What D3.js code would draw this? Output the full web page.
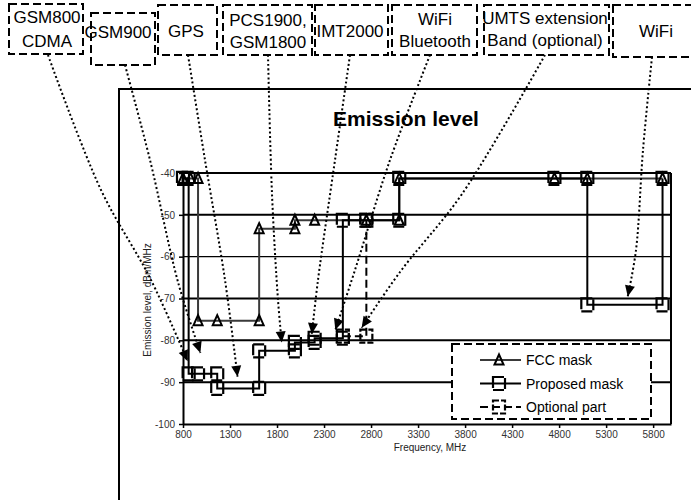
<!DOCTYPE html>
<html>
<head>
<meta charset="utf-8">
<script src="https://cdn.jsdelivr.net/npm/d3@7"></script>
<style>
  body { margin: 0; background: #fff; }
  svg  { display: block; font-family: "Liberation Sans", Arial, sans-serif; }
</style>
</head>
<body>
<svg id="chart" width="691" height="500"></svg>
<script>
// ── Data ─────────────────────────────────────────────────────────────────────
const xTicks = [800, 1300, 1800, 2300, 2800, 3300, 3800, 4300, 4800, 5300, 5800];
const yTicks = [-100, -90, -80, -70, -60, -50, -40];

// [frequency MHz, level dBm/MHz]
const fccMask = [
  [800, -41.3], [880, -41.3], [960, -41.3], [960, -75.3], [1164, -75.3], [1610, -75.3],
  [1610, -53.3], [1990, -53.3], [1990, -51.3], [2200, -51.3], [2750, -51.3], [3100, -51.3],
  [3100, -41.3], [4750, -41.3], [5100, -41.3], [5900, -41.3]
];
const proposedMask = [
  [800, -41.3], [860, -41.3], [860, -88], [960, -88], [1164, -88], [1164, -91.5],
  [1610, -91.5], [1610, -82.5], [1990, -82.5], [1990, -80.5], [2200, -80.5], [2200, -79.5],
  [2500, -79.5], [2500, -51.3], [2750, -51.3], [3100, -51.3], [3100, -41.3], [4750, -41.3],
  [5100, -41.3], [5100, -71.5], [5900, -71.5], [5900, -41.3]
];
const optionalPart = [[2500, -79], [2750, -79], [2750, -51.3]];

const seriesNames = ['FCC mask', 'Proposed mask', 'Optional part'];

const bandLabels = [
  ['GSM800', 'CDMA'], ['GSM900'], ['GPS'], ['PCS1900,', 'GSM1800'],
  ['IMT2000'], ['WiFi', 'Bluetooth'], ['UMTS extension', 'Band (optional)'], ['WiFi']
];
// where each band's arrow points, [MHz, dBm/MHz]
const bandTargets = [
  [850, -85], [985, -83], [1380, -88.7], [1850, -80.5],
  [2170, -78.5], [2420, -77.5], [2700, -77], [5530, -69.5]
];

// ── Layout ───────────────────────────────────────────────────────────────────
const plot = { left: 183, right: 671, top: 173, bottom: 424 };

// label boxes (px) and the bend points of their leader lines
const boxes = [
  { x: 9,   y: 4,  w: 74,  h: 50, tx: 47,  base: [23, 47], via: [[48, 55], [101, 190], [150, 278]] },
  { x: 91,  y: 13, w: 64,  h: 52, tx: 118, base: [38],     via: [[125, 65], [150, 160], [178, 282]] },
  { x: 158, y: 5,  w: 59,  h: 50, tx: 186, base: [37],     via: [[188, 55], [205, 160], [225, 280]] },
  { x: 223, y: 5,  w: 89,  h: 50, tx: 268, base: [26, 48], via: [[268, 55], [272, 194], [278, 300]] },
  { x: 315, y: 5,  w: 73,  h: 50, tx: 350, base: [37],     via: [[350, 55], [335, 160], [318, 280]] },
  { x: 392, y: 5,  w: 85,  h: 50, tx: 435, base: [25, 47], via: [[430, 55], [390, 160], [355, 270]] },
  { x: 484, y: 5,  w: 125, h: 50, tx: 545, base: [24, 46], via: [[545, 55], [462, 194], [400, 272]] },
  { x: 613, y: 5,  w: 90,  h: 52, tx: 656, base: [37],     via: [[652, 57], [643, 150], [636, 250]] }
];

const svg = d3.select('#chart');

const x = d3.scaleLinear().domain([800, 5990]).range([plot.left, plot.right]);
const y = d3.scaleLinear().domain([-100, -40]).range([plot.bottom, plot.top]);

// ── Outer chart frame ────────────────────────────────────────────────────────
svg.append('rect')
  .attr('x', 119).attr('y', 89).attr('width', 700).attr('height', 500)
  .attr('fill', 'none').attr('stroke', '#000').attr('stroke-width', 2);

// ── Title ────────────────────────────────────────────────────────────────────
svg.append('text')
  .attr('x', 406).attr('y', 126)
  .attr('text-anchor', 'middle')
  .attr('font-size', 21).attr('font-weight', 'bold')
  .text('Emission level');

// ── Gridlines + plot border ──────────────────────────────────────────────────
svg.append('g')
  .selectAll('line')
  .data(yTicks.filter(v => v > -100))
  .join('line')
    .attr('x1', plot.left).attr('x2', plot.right)
    .attr('y1', d => y(d)).attr('y2', d => y(d))
    .attr('stroke', '#000')
    .attr('stroke-width', d => d === -60 ? 1.3 : 2);

svg.append('line')
  .attr('x1', plot.right).attr('x2', plot.right)
  .attr('y1', plot.top).attr('y2', plot.bottom)
  .attr('stroke', '#000').attr('stroke-width', 2);

// ── Axes ─────────────────────────────────────────────────────────────────────
const plain = d => String(d);   // no thousands separator, ASCII minus

const xAxis = svg.append('g')
  .attr('transform', `translate(0,${plot.bottom})`)
  .call(d3.axisBottom(x).tickValues(xTicks).tickFormat(plain)
    .tickSize(4).tickPadding(3).tickSizeOuter(0));

const yAxis = svg.append('g')
  .attr('transform', `translate(${plot.left},0)`)
  .call(d3.axisLeft(y).tickValues(yTicks).tickFormat(plain)
    .tickSize(4).tickPadding(4).tickSizeOuter(0));

[xAxis, yAxis].forEach(g => {
  g.select('.domain').attr('stroke', '#000').attr('stroke-width', 2);
  g.selectAll('.tick line').attr('stroke', '#000').attr('stroke-width', 1.5);
  g.selectAll('.tick text')
    .attr('font-family', '"Liberation Sans", Arial, sans-serif')
    .attr('font-size', 10).attr('fill', '#333');
});

svg.append('text')
  .attr('x', 430).attr('y', 451)
  .attr('text-anchor', 'middle').attr('font-size', 10).attr('fill', '#222')
  .text('Frequency, MHz');

svg.append('text')
  .attr('transform', 'translate(151,300) rotate(-90)')
  .attr('text-anchor', 'middle').attr('font-size', 10).attr('fill', '#222')
  .text('Emission level, dBm/MHz');

// ── Series ───────────────────────────────────────────────────────────────────
const line = d3.line().x(d => x(d[0])).y(d => y(d[1]));

const triPath = 'M0,-5.5L4.5,4.5L-4.5,4.5Z';

function drawSeries(data, opts) {
  svg.append('path')
    .datum(data)
    .attr('d', line)
    .attr('fill', 'none')
    .attr('stroke', opts.color)
    .attr('stroke-width', 2)
    .attr('stroke-dasharray', opts.dash || null);
}

function drawMarkers(data, kind, dash) {
  const g = svg.append('g');
  if (kind === 'tri') {
    g.selectAll('path').data(data).join('path')
      .attr('transform', d => `translate(${x(d[0])},${y(d[1])})`)
      .attr('d', triPath)
      .attr('fill', 'none').attr('stroke', '#000').attr('stroke-width', 2);
  } else {
    g.selectAll('rect').data(data).join('rect')
      .attr('x', d => x(d[0]) - 6).attr('y', d => y(d[1]) - 6.5)
      .attr('width', 12).attr('height', 13)
      .attr('fill', 'none').attr('stroke', '#000').attr('stroke-width', 2.2)
      .attr('stroke-dasharray', dash || null);
  }
}

drawSeries(fccMask,      { color: '#3a3a3a' });
drawSeries(proposedMask, { color: '#000' });
drawSeries(optionalPart, { color: '#000', dash: '8,4' });

drawMarkers(fccMask, 'tri');
drawMarkers(proposedMask, 'sq', '11,2');
drawMarkers(optionalPart, 'sq', '6,2');

// ── Band labels with dotted leaders ──────────────────────────────────────────
const leader = d3.line().curve(d3.curveCatmullRom.alpha(0.5));

boxes.forEach((b, i) => {
  const tip = [x(bandTargets[i][0]), y(bandTargets[i][1])];
  const pts = b.via.concat([tip]);

  const p = svg.append('path')
    .attr('d', leader(pts))
    .attr('fill', 'none')
    .attr('stroke', '#000')
    .attr('stroke-width', 2)
    .attr('stroke-dasharray', '2,2.5');

  // arrowhead aligned with the end of the curve
  const node = p.node();
  const len  = node.getTotalLength();
  const back = node.getPointAtLength(Math.max(0, len - 8));
  const ang  = Math.atan2(tip[1] - back.y, tip[0] - back.x) * 180 / Math.PI;
  svg.append('path')
    .attr('transform', `translate(${tip[0]},${tip[1]}) rotate(${ang})`)
    .attr('d', 'M0,0L-11,-5L-11,5Z')
    .attr('fill', '#000');

  svg.append('rect')
    .attr('x', b.x).attr('y', b.y).attr('width', b.w).attr('height', b.h)
    .attr('fill', 'none').attr('stroke', '#000').attr('stroke-width', 2)
    .attr('stroke-dasharray', '8,4');

  bandLabels[i].forEach((t, j) => {
    svg.append('text')
      .attr('x', b.tx).attr('y', b.base[j])
      .attr('text-anchor', 'middle').attr('font-size', 17)
      .text(t);
  });
});

// ── Legend ───────────────────────────────────────────────────────────────────
const legend = svg.append('g');
legend.append('rect')
  .attr('x', 452).attr('y', 344).attr('width', 199).attr('height', 75)
  .attr('fill', '#fff').attr('stroke', '#000').attr('stroke-width', 2)
  .attr('stroke-dasharray', '8,4');

const legendRows = seriesNames.map((name, i) => ({
  name,
  color: i === 0 ? '#3a3a3a' : '#000',
  dash:  i === 2 ? '8,4' : null,
  kind:  i === 0 ? 'tri' : 'sq',
  mdash: i === 1 ? '11,2' : '6,2',
  cy:    360 + i * 23.5
}));

legendRows.forEach(r => {
  legend.append('line')
    .attr('x1', 480).attr('x2', 521).attr('y1', r.cy).attr('y2', r.cy)
    .attr('stroke', r.color).attr('stroke-width', 2)
    .attr('stroke-dasharray', r.dash);
  if (r.kind === 'tri') {
    legend.append('path')
      .attr('transform', `translate(499,${r.cy})`)
      .attr('d', triPath)
      .attr('fill', 'none').attr('stroke', '#000').attr('stroke-width', 2);
  } else {
    legend.append('rect')
      .attr('x', 493).attr('y', r.cy - 6.5).attr('width', 12).attr('height', 13)
      .attr('fill', 'none').attr('stroke', '#000').attr('stroke-width', 2.2)
      .attr('stroke-dasharray', r.mdash);
  }
  legend.append('text')
    .attr('x', 526).attr('y', r.cy + 5)
    .attr('font-size', 14)
    .text(r.name);
});
</script>
</body>
</html>
